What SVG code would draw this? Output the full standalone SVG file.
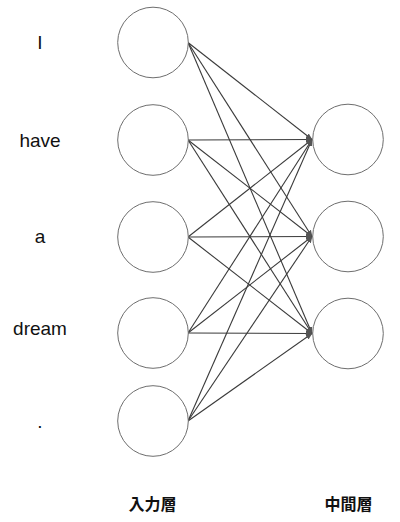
<svg xmlns="http://www.w3.org/2000/svg" width="400" height="522" viewBox="0 0 400 522">
<style>
.node{fill:#fff;stroke:#6e6e6e;stroke-width:1}
.word{font-family:"Liberation Sans","Noto Sans",sans-serif;font-size:19px;fill:#111;text-anchor:middle}
.layer{font-family:"Noto Sans CJK JP","Noto Sans CJK SC",sans-serif;font-size:16px;font-weight:bold;fill:#111;text-anchor:middle}
.edge{stroke:#3a3a3a;stroke-width:1.1;fill:none;marker-end:url(#ah)}
</style>
<defs>
<marker id="ah" viewBox="0 0 10 10" refX="9" refY="5" markerWidth="7" markerHeight="7" markerUnits="userSpaceOnUse" orient="auto">
<path d="M0,1 L10,5 L0,9 z" fill="#555"/>
</marker>
</defs>
<rect width="400" height="522" fill="#fff"/>
<g id="edges">
<line class="edge" x1="188" y1="42.5" x2="312" y2="139.5"/>
<line class="edge" x1="188" y1="42.5" x2="312" y2="236.5"/>
<line class="edge" x1="188" y1="42.5" x2="312" y2="333.5"/>
<line class="edge" x1="188" y1="140" x2="312" y2="139.5"/>
<line class="edge" x1="188" y1="140" x2="312" y2="236.5"/>
<line class="edge" x1="188" y1="140" x2="312" y2="333.5"/>
<line class="edge" x1="188" y1="237" x2="312" y2="139.5"/>
<line class="edge" x1="188" y1="237" x2="312" y2="236.5"/>
<line class="edge" x1="188" y1="237" x2="312" y2="333.5"/>
<line class="edge" x1="188" y1="333" x2="312" y2="139.5"/>
<line class="edge" x1="188" y1="333" x2="312" y2="236.5"/>
<line class="edge" x1="188" y1="333" x2="312" y2="333.5"/>
<line class="edge" x1="188" y1="421" x2="312" y2="139.5"/>
<line class="edge" x1="188" y1="421" x2="312" y2="236.5"/>
<line class="edge" x1="188" y1="421" x2="312" y2="333.5"/>
</g>
<g id="in1"><circle class="node" cx="153" cy="42.5" r="35.3"/><text class="word" x="40" y="49">I</text></g>
<g id="in2"><circle class="node" cx="153" cy="140" r="35.3"/><text class="word" x="40" y="147">have</text></g>
<g id="in3"><circle class="node" cx="153" cy="237" r="35.3"/><text class="word" x="40" y="243">a</text></g>
<g id="in4"><circle class="node" cx="153" cy="333" r="35.3"/><text class="word" x="40" y="335">dream</text></g>
<g id="in5"><circle class="node" cx="153" cy="421" r="35.3"/><text class="word" x="40" y="428">.</text></g>
<g id="h1"><circle class="node" cx="348" cy="139.5" r="35.3"/></g>
<g id="h2"><circle class="node" cx="348" cy="236.5" r="35.3"/></g>
<g id="h3"><circle class="node" cx="348" cy="333.5" r="35.3"/></g>
<g id="label-input"><text class="layer" x="152.5" y="510">入力層</text></g>
<g id="label-hidden"><text class="layer" x="348.5" y="510">中間層</text></g>
</svg>
